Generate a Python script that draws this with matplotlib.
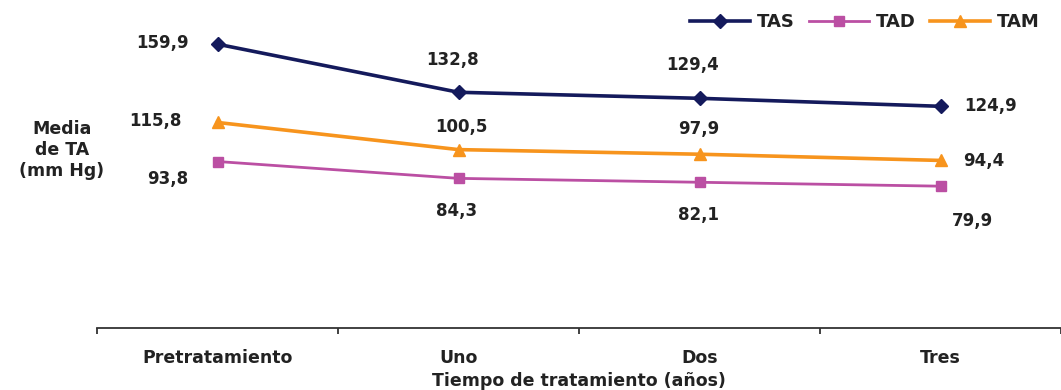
import numpy as np
import matplotlib
matplotlib.use('Agg')
import matplotlib.pyplot as plt

# -------------------------- data --------------------------
categories = ['Pretratamiento', 'Uno', 'Dos', 'Tres']
tas = [159.9, 132.8, 129.4, 124.9]
tad = [93.8, 84.3, 82.1, 79.9]
tam = [115.8, 100.5, 97.9, 94.4]
series_names = ['TAS', 'TAD', 'TAM']

# label offsets in pixels (dx, dy), dy positive = up
tas_offsets = [(-55, 1), (-6, 32), (-7, 33), (50, 0)]
tad_offsets = [(-50, -17), (-2, -33), (-1, -33), (32, -35)]
tam_offsets = [(-62, 1), (3, 23), (-1, 25), (43, -1)]

colors = {'TAS': '#141a5c', 'TAD': '#bb4fa3', 'TAM': '#f7941d'}
text_color = '#222222'

plt.rcParams['font.family'] = ['DejaVu Sans']
plt.rcParams['font.weight'] = 'bold'

fig = plt.figure(figsize=(10.61, 3.90), dpi=100)
ax = fig.add_axes([97 / 1061, 1 - 328 / 390, 964 / 1061, (328 - 8.5) / 390])

x = np.arange(len(categories))

ax.plot(x, tas, color=colors['TAS'], lw=2.6, marker='D', ms=7.5,
        label='TAS', clip_on=False)
ax.plot(x, tad, color=colors['TAD'], lw=2.0, marker='s', ms=7,
        label='TAD', clip_on=False)
ax.plot(x, tam, color=colors['TAM'], lw=2.6, marker='^', ms=9,
        label='TAM', clip_on=False)

# -------------------------- data labels --------------------------
for vals, offs in [(tas, tas_offsets), (tad, tad_offsets), (tam, tam_offsets)]:
    for xi, v, (dx, dy) in zip(x, vals, offs):
        ax.annotate(f'{v:.1f}'.replace('.', ','), (xi, v),
                    xytext=(dx, dy), textcoords='offset pixels',
                    ha='center', va='center', fontsize=12,
                    fontweight='bold', color=text_color)

# -------------------------- axes --------------------------
ax.set_xlim(-0.5, 3.5)
ax.set_ylim(0, 180)
for s in ['left', 'right', 'top']:
    ax.spines[s].set_visible(False)
ax.spines['bottom'].set_color('#333333')
ax.spines['bottom'].set_linewidth(1.3)
ax.set_yticks([])

ax.set_xticks(x)
ax.set_xticklabels(categories, fontsize=12.5, fontweight='bold', color=text_color)
ax.tick_params(axis='x', which='major', length=0, pad=15)
ax.set_xticks(np.arange(-0.5, 3.6, 1.0), minor=True)
ax.tick_params(axis='x', which='minor', length=4, width=1.3,
               color='#333333', direction='out')

ax.set_xlabel('Tiempo de tratamiento (años)', fontsize=12.5,
              fontweight='bold', color=text_color, labelpad=4)

fig.text(62 / 1061, 1 - 150 / 390, 'Media\nde TA\n(mm Hg)', ha='center',
         va='center', fontsize=12.5, fontweight='bold', color=text_color,
         linespacing=1.25)

leg = ax.legend(loc='center right', bbox_to_anchor=(1040 / 1061, 1 - 22 / 390),
                bbox_transform=fig.transFigure, ncol=3, frameon=False,
                fontsize=13, handlelength=3.3, handletextpad=0.4,
                columnspacing=0.8, borderpad=0, borderaxespad=0)
for t in leg.get_texts():
    t.set_color(text_color)
    t.set_fontweight('bold')

fig.savefig('out.png', dpi=100)
